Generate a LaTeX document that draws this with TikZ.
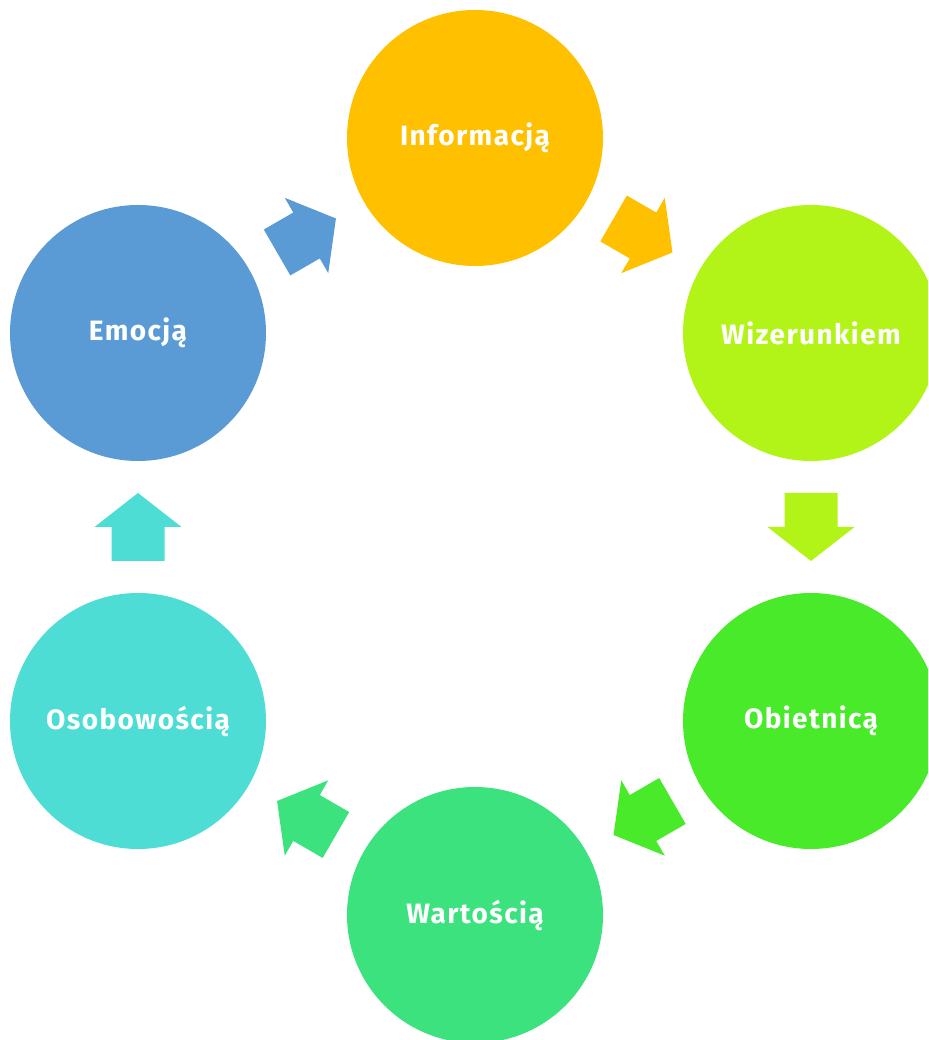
\documentclass[tikz,border=0pt]{standalone}
\usepackage{fontspec}
\setmainfont{Fira Sans}[LetterSpace=5]
\usetikzlibrary{calc}
\definecolor{cInfo}{HTML}{FFC000}
\definecolor{cWiz}{HTML}{B2F418}
\definecolor{cObi}{HTML}{48EA2A}
\definecolor{cWar}{HTML}{3BE27E}
\definecolor{cOso}{HTML}{4DDDD4}
\definecolor{cEmo}{HTML}{5B9BD5}
\tikzset{
  bubble/.style={circle, fill=#1, draw=none, minimum size=256pt, inner sep=0pt,
    text=white, font=\fontsize{28pt}{31pt}\selectfont\bfseries},
  blockarr/.pic={
    \fill[pic actions] (-34,-26.5) -- (0,-26.5) -- (0,-43.5) -- (34,0)
      -- (0,43.5) -- (0,26.5) -- (-34,26.5) -- cycle;
  }
}
\begin{document}
\begin{tikzpicture}[x=1pt,y=1pt]
\useasboundingbox (0,0) rectangle (928,1040);
\clip (0,0) rectangle (928,1040);
\node[bubble=cInfo] (info) at (475,902) {Informacją};
\node[bubble=cWiz] (wiz) at (811,707) {Wizerunkiem};
\node[bubble=cObi] (obi) at (811,319) {Obietnicą};
\node[bubble=cWar] (war) at (475,125) {Wartością};
\node[bubble=cOso] (oso) at (138,319) {Osobowością};
\node[bubble=cEmo] (emo) at (138,707) {Emocją};
\coordinate (m1) at ($(emo)!0.5!(info)$);
\coordinate (m2) at ($(info)!0.5!(wiz)$);
\coordinate (m3) at ($(wiz)!0.5!(obi)$);
\coordinate (m4) at ($(obi)!0.5!(war)$);
\coordinate (m5) at ($(war)!0.5!(oso)$);
\coordinate (m6) at ($(oso)!0.5!(emo)$);
\pic[fill=cEmo, rotate=30] (a1) at (m1) {blockarr};
\pic[fill=cInfo, rotate=-30] (a2) at (m2) {blockarr};
\pic[fill=cWiz, rotate=-90] (a3) at (m3) {blockarr};
\pic[fill=cObi, rotate=210] (a4) at (m4) {blockarr};
\pic[fill=cWar, rotate=150] (a5) at (m5) {blockarr};
\pic[fill=cOso, rotate=90] (a6) at (m6) {blockarr};
\end{tikzpicture}
\end{document}
